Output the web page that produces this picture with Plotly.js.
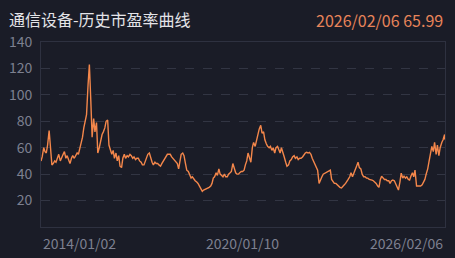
<!DOCTYPE html>
<html>
<head>
<meta charset="utf-8">
<script src="https://cdn.plot.ly/plotly-3.0.1.min.js"></script>
<style>
html,body{margin:0;padding:0;background:#1a1c27;}
#chart{width:455px;height:258px;}
</style>
</head>
<body>
<div id="chart"></div>
<script>
// Half-monthly PE readings (1st and 15th of each month)
const pe2014 = [50,53,60,57,56,62,73,58,47,48,50,49,53,55,50,53,55,57,52,54,50,48,52,54];
const pe2015 = [52,54,56,55,59,63,68,75,80,85,108,123,95,68,82,72,79,56,60,66,70,72,75,80];
const pe2016 = [81,62,57,55,58,52,56,50,54,46,45,52,55,52,54,53,55,54,52,53,51,52,52,50];
const pe2017 = [49,47,47,50,53,55,56,52,49,47,49,48,48,47,46,48,50,52,54,55,55,55,53,52];
const pe2018 = [51,50,48,44,50,55,56,54,48,43,42,40,37,38,36,35,34,33,31,29,27,28,28.5,29];
const pe2019 = [29,30,31,33,37,38,41,39,44,40,39,38,40,38,38,40,41,42,48,44,41,40,40,41];
const pe2020 = [42,42,43,47,50,56,52,49,60,64,61,66,70,74,77,71,72,66,63,61,60,61,58,60];
const pe2021 = [56,60,61,58,56,60,55,53,49,46,47,50,51,53,54,52,53,51,52,52,53,55,56,56.5];
const pe2022 = [56,56.5,55,52,50,48,45,43,33,36,38,40,40.5,41,42,42,43,36,34,33,33,32,31,30];
const pe2023 = [29.5,31,32,33,35,36,38,41,38,41,43,46,49,45,44,40,38,38,37,37,36,36,35.5,35];
const pe2024 = [34,33,31,30,36,38.5,37,36,36,35,35,33,35,35.5,35,33,31,28,34,40.7,37,38.5,37,38];
const pe2025 = [36,35.5,39,41,38,43,31,31,30.6,31,32,34,36,40,44,49.5,58,61,57,64,55,62,54,60];
const dates2026 = ["2026-01-02","2026-01-16","2026-02-02","2026-02-06"];
const pe2026 = [64,66,70,65.99];

const yearly = [pe2014,pe2015,pe2016,pe2017,pe2018,pe2019,pe2020,pe2021,pe2022,pe2023,pe2024,pe2025];
const firstYear = 2014;

const tickDates = ["2014-01-02","2020-01-10","2026-02-06"];
const tickLabels = ["2014/01/02","2020/01/10","2026/02/06"];
const yTicks = [20,40,60,80,100,120,140];

const titleText = "通信设备-历史市盈率曲线";
const lastLabel = "2026/02/06 65.99";

// Build the date/value series
const xs = [], ys = [];
yearly.forEach((arr, yi) => {
  const yr = firstYear + yi;
  arr.forEach((v, i) => {
    const m = Math.floor(i / 2) + 1;
    const d = (i % 2 === 0) ? "01" : "15";
    let ds = yr + "-" + String(m).padStart(2, "0") + "-" + d;
    if (yi === 0 && i === 0) ds = tickDates[0];
    xs.push(ds); ys.push(v);
  });
});
dates2026.forEach((d, i) => { xs.push(d); ys.push(pe2026[i]); });

const FONT = "'Noto Sans CJK SC', 'Noto Sans', sans-serif";
const GREY = "#7d8090";

const trace = {
  x: xs, y: ys, type: "scatter", mode: "lines",
  line: {color: "#f4874b", width: 1.4},
  hoverinfo: "skip"
};

const anchors = ["left", "center", "right"];
const annotations = tickDates.map((d, i) => ({
  x: d, xref: "x", y: -0.086, yref: "paper",
  text: tickLabels[i], showarrow: false,
  xanchor: anchors[i], yanchor: "middle",
  font: {family: FONT, size: 14, color: GREY}
}));
annotations.push({
  x: 1, xref: "paper", y: 1.119, yref: "paper",
  text: lastLabel, showarrow: false, xanchor: "right", yanchor: "middle",
  font: {family: FONT, size: 16, color: "#e8845a"}
});

const layout = {
  width: 455, height: 258,
  margin: {l: 41, r: 10, t: 42, b: 31, pad: 0},
  paper_bgcolor: "#1a1c27", plot_bgcolor: "#1a1c27",
  showlegend: false,
  title: {
    text: titleText, xref: "container", yref: "container",
    x: 9/455, xanchor: "left", y: 1 - 20/258, yanchor: "middle",
    font: {family: FONT, size: 16, color: "#e4e4e8"}
  },
  xaxis: {
    type: "date", range: [tickDates[0], tickDates[2]],
    showgrid: false, zeroline: false, showticklabels: false,
    showline: true, mirror: true, linecolor: "#2e3140", linewidth: 1,
    ticks: ""
  },
  yaxis: {
    range: [0, 140], tickvals: yTicks,
    showgrid: true, gridcolor: "#323543", griddash: "dash", gridwidth: 1,
    zeroline: false,
    showline: true, mirror: true, linecolor: "#2e3140", linewidth: 1,
    ticks: "outside", ticklen: 5, tickcolor: "rgba(0,0,0,0)",
    tickfont: {family: FONT, size: 14, color: GREY}
  },
  annotations: annotations
};

Plotly.newPlot("chart", [trace], layout, {displayModeBar: false, staticPlot: true});
</script>
</body>
</html>
